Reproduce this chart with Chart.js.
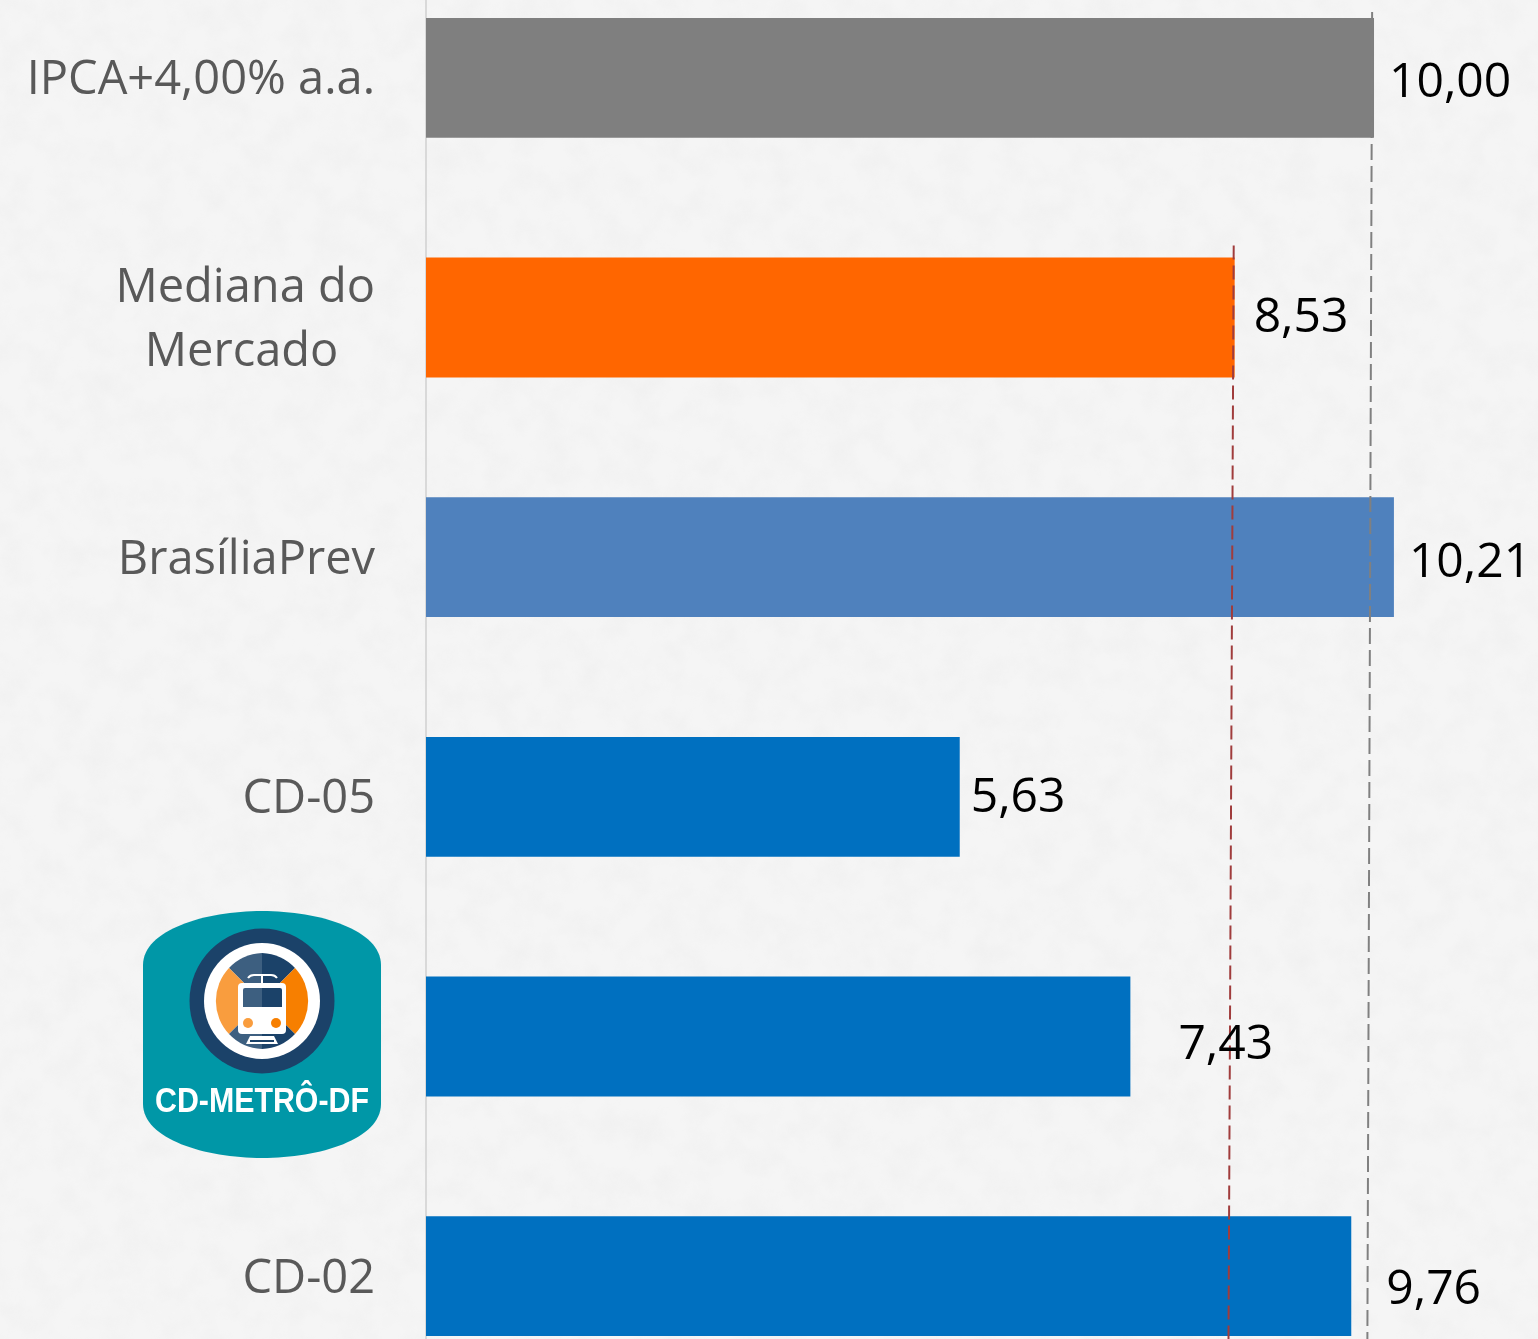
<!DOCTYPE html>
<html lang="pt-BR">
<head>
<meta charset="utf-8">
<title>Rentabilidade</title>
<script src="https://cdn.jsdelivr.net/npm/chart.js@4"></script>
<style>
  html, body { margin: 0; padding: 0; width: 1538px; height: 1339px; overflow: hidden; background: #f5f5f5; }
  #paper, #logo { position: absolute; left: 0; top: 0; }
  /* the plot runs past the top and bottom of the picture */
  #wrap { position: absolute; left: 0; top: -42px; width: 1538px; height: 1438px; }
</style>
</head>
<body>
<svg id="paper" width="1538" height="1339">
  <filter id="grain">
    <feTurbulence type="fractalNoise" baseFrequency="0.035" numOctaves="4" seed="7"/>
    <feColorMatrix values="0 0 0 0 0.55  0 0 0 0 0.55  0 0 0 0 0.55  0.55 0 0 0 -0.2"/>
  </filter>
  <rect width="1538" height="1339" filter="url(#grain)" opacity="0.28"/>
</svg>
<div id="wrap"><canvas id="chart"></canvas></div>
<svg id="logo" width="1538" height="1339">
  <path d="M143 965 C143 930 205 911 262 911 C320 911 381 930 381 965 L381 1104 C381 1139 320 1158 262 1158 C205 1158 143 1139 143 1104 Z" fill="#0097a7"/>
  <circle cx="262" cy="1001" r="72.5" fill="#1b4269"/>
  <circle cx="262" cy="1001" r="58" fill="#fff"/>
  <path d="M262 1001 L229 968 A48 48 0 0 1 262 953 Z" fill="#3d5f80"/>
  <path d="M262 1001 L295 968 A48 48 0 0 0 262 953 Z" fill="#1b4269"/>
  <path d="M262 1001 L229 968 A48 48 0 0 0 229 1034 Z" fill="#f99d3e"/>
  <path d="M262 1001 L295 968 A48 48 0 0 1 295 1034 Z" fill="#f77f00"/>
  <path d="M262 1001 L229 1034 A48 48 0 0 0 262 1049 Z" fill="#3d5f80"/>
  <path d="M262 1001 L295 1034 A48 48 0 0 1 262 1049 Z" fill="#1b4269"/>
  <rect x="238" y="983" width="48" height="51" rx="4" fill="#fff"/>
  <path d="M243 990 Q243 988 245 988 L262 988 L262 1007 L243 1007 Z" fill="#3d5f80"/>
  <path d="M262 988 L280 988 Q282 988 282 990 L282 1007 L262 1007 Z" fill="#1b4269"/>
  <circle cx="248" cy="1023" r="5" fill="#f99d3e"/>
  <circle cx="276" cy="1023" r="5" fill="#f77f00"/>
  <path d="M248 978 Q250 975 254 975 L271 975 Q275 975 277 978 M262 975 L262 983" stroke="#fff" stroke-width="2" fill="none"/>
  <path d="M246 1044 L250 1036 L274 1036 L278 1044 Z" fill="#fff"/>
  <rect x="250" y="1040" width="24" height="2" fill="#1b4269"/>
  <text x="262" y="1112" text-anchor="middle" textLength="214" lengthAdjust="spacingAndGlyphs" font-family="Liberation Sans" font-weight="700" font-size="35" fill="#fff">CD-METRÔ-DF</text>
</svg>
<script>
// Data
const categories = ["IPCA+4,00% a.a.", ["Mediana do", "Mercado\u00a0\u00a0\u00a0"], "BrasíliaPrev", "CD-05", "", "CD-02"];
const values = [10.00, 8.53, 10.21, 5.63, 7.43, 9.76];
const valueLabels = ["10,00", "8,53", "10,21", "5,63", "7,43", "9,76"];
const barColors = ["#7f7f7f", "#ff6600", "#4f81bd", "#0070c0", "#0070c0", "#0070c0"];
// the two reference lines lean slightly in the picture
const ipcaLine = [{ x: 9.98, y: 0.225 }, { x: 9.93, y: 5.763 }];
const medianLine = [{ x: 8.52, y: 1.2 }, { x: 8.465, y: 5.763 }];

// hand placed labels: the original ones don't sit evenly next to the bars
const labelShift = [[15, 5], [19, 1], [15, 6], [11, 1], [48, 9], [35, 14]];
const tickShift = 3;

const barLabels = {
  id: "barLabels",
  beforeDraw(chart) {
    // ticks have no y offset option, nudge the computed label items
    const scale = chart.scales.y;
    scale.getLabelItems().forEach((item, i) => {
      item.options.translation[1] = scale.getPixelForTick(i) + tickShift;
    });
  },
  afterDatasetsDraw(chart) {
    const ctx = chart.ctx;
    ctx.save();
    ctx.font = "48px 'Open Sans'";
    ctx.fillStyle = "#000";
    ctx.textBaseline = "middle";
    chart.getDatasetMeta(0).data.forEach((bar, i) => {
      ctx.fillText(valueLabels[i], bar.x + labelShift[i][0], bar.y + labelShift[i][1]);
    });
    ctx.restore();
  },
};

const refLine = (data, color, dash) => ({
  type: "line",
  data: data,
  indexAxis: "y",
  xAxisID: "x",
  yAxisID: "yRefs",
  borderColor: color,
  borderWidth: 2,
  borderDash: dash,
  pointRadius: 0,
  order: -1,
});

let context = document.getElementById("chart").getContext("2d");
let chart = new Chart(context, {
  type: "bar",
  data: {
    labels: categories,
    datasets: [
      {
        data: values,
        backgroundColor: barColors,
        barPercentage: 1,
        categoryPercentage: 0.5,
        grouped: false,
        order: 1,
      },
      refLine(ipcaLine, "#808080", [16, 6]),
      refLine(medianLine, "#a03c3c", [14, 6]),
    ],
  },
  options: {
    indexAxis: "y",
    responsive: true,
    maintainAspectRatio: false,
    animation: false,
    layout: { padding: { left: 0, right: 12.3, top: 0, bottom: 0 } },
    plugins: { legend: { display: false }, tooltip: { enabled: false } },
    scales: {
      x: { type: "linear", min: 0, max: 11.6, display: false },
      y: {
        type: "category",
        grid: { display: false },
        border: { display: true, color: "#d9d9d9", width: 2 },
        ticks: {
          color: "#595959",
          padding: 43,
          autoSkip: false,
          font: { family: "Open Sans", size: 47, lineHeight: 1.36 },
        },
        afterFit(scale) {
          // fill the whole canvas height, tick padding would shrink the plot
          scale.width = 426;
          scale.paddingTop = 0;
          scale.paddingBottom = 0;
        },
      },
      yRefs: { type: "linear", axis: "y", reverse: true, offset: false, min: 0, max: 6, display: false },
    },
  },
  plugins: [barLabels],
});
</script>
</body>
</html>
